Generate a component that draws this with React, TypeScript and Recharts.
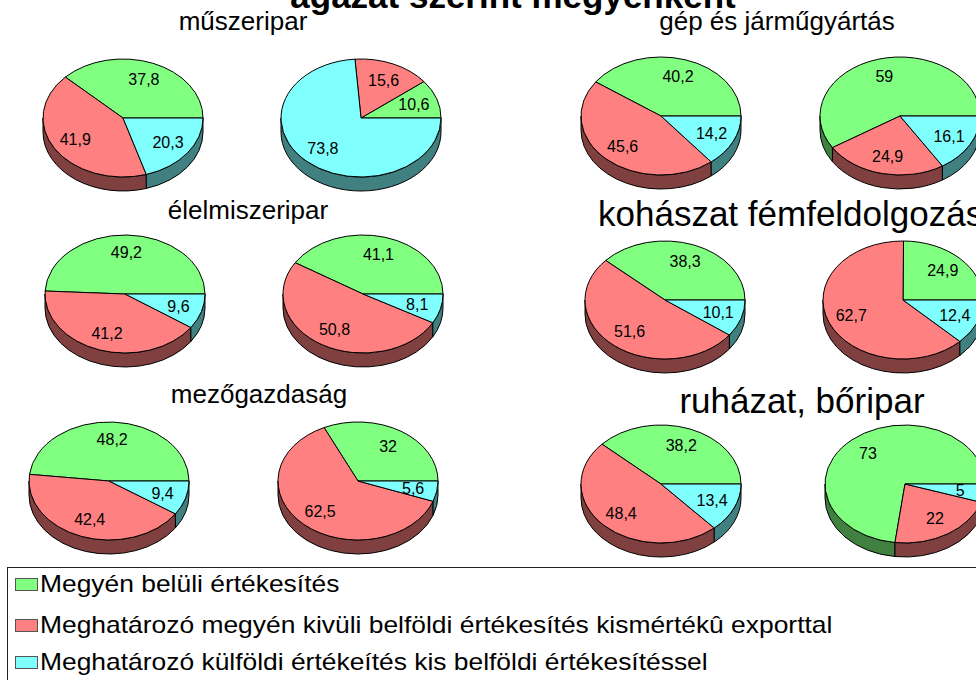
import React from "react";
import { PieChart, Pie, Legend } from "recharts";

// értékesítési irány kategóriák
const CATEGORIES = [
  "Megyén belüli értékesítés",
  "Meghatározó megyén kivüli belföldi értékesítés kismértékû exporttal",
  "Meghatározó külföldi értékeítés kis belföldi értékesítéssel",
];
const FACE_COLORS = ["#80ff80", "#ff8080", "#80ffff"];
const SIDE_COLORS = ["#408040", "#804040", "#408080"];

const muszeriparA = [37.8, 41.9, 20.3];
const muszeriparB = [10.6, 15.6, 73.8];
const gepA = [40.2, 45.6, 14.2];
const gepB = [59, 24.9, 16.1];
const elelmiszerA = [49.2, 41.2, 9.6];
const elelmiszerB = [41.1, 50.8, 8.1];
const kohaszatA = [38.3, 51.6, 10.1];
const kohaszatB = [24.9, 62.7, 12.4];
const mezoA = [48.2, 42.4, 9.4];
const mezoB = [32, 62.5, 5.6];
const ruhazatA = [38.2, 48.4, 13.4];
const ruhazatB = [73, 22, 5];

const toRows = (values: number[]) => values.map((v, i) => ({ name: CATEGORIES[i], value: v }));

const PIES = [
  { id: "muszA", values: muszeriparA, cx: 123, cy: 118 },
  { id: "muszB", values: muszeriparB, cx: 361, cy: 118 },
  { id: "gepA", values: gepA, cx: 661, cy: 116 },
  { id: "gepB", values: gepB, cx: 900, cy: 116 },
  { id: "elA", values: elelmiszerA, cx: 125, cy: 294 },
  { id: "elB", values: elelmiszerB, cx: 363, cy: 294 },
  { id: "kohA", values: kohaszatA, cx: 665, cy: 300 },
  { id: "kohB", values: kohaszatB, cx: 903, cy: 300 },
  { id: "mezA", values: mezoA, cx: 109, cy: 481 },
  { id: "mezB", values: mezoB, cx: 358, cy: 481 },
  { id: "ruhA", values: ruhazatA, cx: 661, cy: 484 },
  { id: "ruhB", values: ruhazatB, cx: 905, cy: 484 },
];

const TITLES = [
  { text: "műszeripar", x: 243, y: 30, size: 26, anchor: "middle" },
  { text: "gép és járműgyártás", x: 777, y: 30, size: 26, anchor: "middle" },
  { text: "élelmiszeripar", x: 248, y: 219, size: 26, anchor: "middle" },
  { text: "kohászat fémfeldolgozás", x: 598, y: 226, size: 35, anchor: "start" },
  { text: "mezőgazdaság", x: 259, y: 403, size: 26, anchor: "middle" },
  { text: "ruházat, bőripar", x: 802, y: 413, size: 35, anchor: "middle" },
];

const FONT = "Arial, 'Liberation Sans', sans-serif";
const RX = 80;
const RY = 59;
const DEPTH = 14;
const RAD = Math.PI / 180;

const pt = (cx: number, cy: number, a: number, dy = 0) =>
  `${cx + RX * Math.cos(a * RAD)},${cy - RY * Math.sin(a * RAD) + dy}`;

// 3D-s ellipszis szelet: oldalfal + teteje
const renderBody = (props: any) => {
  const { cx, cy, startAngle, endAngle, index } = props;
  const large = endAngle - startAngle > 180 ? 1 : 0;
  const face = `M${cx},${cy} L${pt(cx, cy, startAngle)} A${RX},${RY} 0 ${large} 0 ${pt(cx, cy, endAngle)} Z`;
  const w0 = Math.max(startAngle, 180);
  const w1 = Math.min(endAngle, 360);
  const wall =
    w1 > w0
      ? `M${pt(cx, cy, w0)} A${RX},${RY} 0 0 0 ${pt(cx, cy, w1)} L${pt(cx, cy, w1, DEPTH)} A${RX},${RY} 0 0 1 ${pt(cx, cy, w0, DEPTH)} Z`
      : null;
  return (
    <g>
      {wall && <path d={wall} fill={SIDE_COLORS[index]} stroke="#000" strokeWidth={1} />}
      <path d={face} fill={FACE_COLORS[index]} stroke="#000" strokeWidth={1} />
    </g>
  );
};

const renderValue = (props: any) => {
  const { cx, cy, midAngle, value } = props;
  const x = cx + 0.7 * RX * Math.cos(midAngle * RAD);
  const y = cy - 0.7 * RY * Math.sin(midAngle * RAD);
  return (
    <text x={x} y={y} textAnchor="middle" dominantBaseline="central" fontSize={16} fontFamily={FONT} fill="#000">
      {String(value).replace(".", ",")}
    </text>
  );
};

const LEGEND_ROWS = [16, 57, 94];

const renderLegend = () => (
  <div
    style={{
      position: "relative",
      width: 1000,
      height: 130,
      border: "1.5px solid #222",
      boxSizing: "border-box",
      fontFamily: FONT,
      fontSize: 24,
      color: "#000",
    }}
  >
    {CATEGORIES.map((c, i) => (
      <div key={c} style={{ position: "absolute", left: 7, top: LEGEND_ROWS[i] - 15, height: 30, display: "flex", alignItems: "center", whiteSpace: "nowrap" }}>
        <span style={{ display: "inline-block", width: 21, height: 11, background: FACE_COLORS[i], border: "1px solid #555", marginRight: 2, flex: "none" }} />
        <span style={{ display: "inline-block", transform: "scaleX(1.1)", transformOrigin: "left center" }}>{c}</span>
      </div>
    ))}
  </div>
);

export default function App() {
  return (
    <div style={{ position: "fixed", left: 0, top: 0, width: 976, height: 680, overflow: "hidden", background: "#fff" }}>
      <PieChart width={976} height={680} margin={{ top: 0, right: 0, bottom: 0, left: 0 }}>
        <text x={513} y={8} textAnchor="middle" fontSize={35} fontWeight="bold" fontFamily={FONT} fill="#000">
          ágazat szerint megyénként
        </text>
        {TITLES.map((t) => (
          <text key={t.text} x={t.x} y={t.y} textAnchor={t.anchor as any} fontSize={t.size} fontFamily={FONT} fill="#000">
            {t.text}
          </text>
        ))}
        {PIES.map((p) => (
          <Pie
            key={p.id + "-body"}
            data={toRows(p.values)}
            dataKey="value"
            nameKey="name"
            cx={p.cx}
            cy={p.cy}
            outerRadius={RX}
            fill="none"
            stroke="none"
            label={renderBody}
            labelLine={false}
            legendType="none"
            isAnimationActive={false}
          />
        ))}
        {PIES.map((p) => (
          <Pie
            key={p.id + "-text"}
            data={toRows(p.values)}
            dataKey="value"
            nameKey="name"
            cx={p.cx}
            cy={p.cy}
            outerRadius={RX}
            fill="none"
            stroke="none"
            label={renderValue}
            labelLine={false}
            legendType="none"
            isAnimationActive={false}
          />
        ))}
        <Legend
          verticalAlign="bottom"
          layout="horizontal"
          content={renderLegend}
          wrapperStyle={{ left: 7, top: 567, bottom: "auto", width: 1000, height: 130 }}
        />
      </PieChart>
    </div>
  );
}
